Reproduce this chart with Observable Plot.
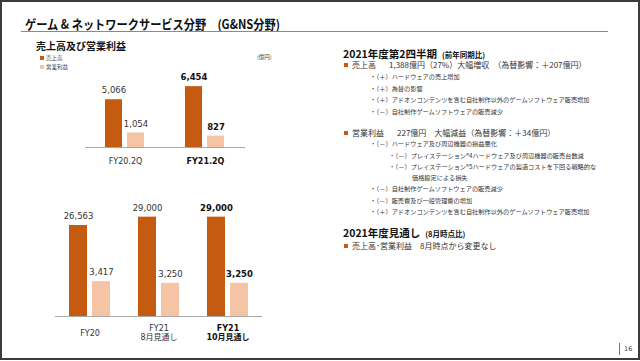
<!DOCTYPE html>
<html><head><meta charset="utf-8">
<script src="https://cdn.jsdelivr.net/npm/d3@7"></script>
<script src="https://cdn.jsdelivr.net/npm/@observablehq/plot@0.6"></script>
<style>
body{margin:0;background:#fff;}
#slide{position:relative;width:640px;height:361px;overflow:hidden;background:#fff;font-family:"Noto Sans CJK JP",sans-serif;color:#333;}
#frame{position:absolute;left:0;top:0;width:636px;height:356px;border:2px solid #3c3c3c;}
.t{position:absolute;white-space:nowrap;line-height:12px;height:12px;}
.title{left:25px;top:17.5px;font-size:12.6px;font-weight:bold;color:#111;transform:scaleX(0.89);transform-origin:left center;}
.rule{position:absolute;left:21px;top:31px;width:587px;height:1px;background:#8a8a8a;}
.ctitle{left:36px;top:40px;font-size:10px;font-weight:bold;color:#111;}
.leg{font-size:5.5px;color:#444;}
.sw{position:absolute;width:4px;height:4px;}
.h{font-size:10.5px;font-weight:bold;color:#111;left:343px;}
.h small{font-size:7.5px;margin-left:5px;}
.l1{font-size:8px;left:352px;}
.g{margin-left:5px;}
.b{position:absolute;left:344px;width:4px;height:4px;background:#C55A11;}
.l2{font-size:6.2px;left:370px;}
.l3{font-size:6.2px;left:389px;}
.l4{font-size:6.2px;left:412px;}
.chart{position:absolute;}
.chart svg{position:absolute;left:0;top:0;}
</style></head><body>
<div id="slide">
<div id="frame"></div>
<div class="t title">ゲーム &amp; ネットワークサービス分野　(G&amp;NS分野)</div>
<div class="rule"></div>
<div class="t ctitle">売上高及び営業利益</div>
<div class="sw" style="left:40px;top:56px;background:#C55A11"></div>
<div class="t leg" style="left:46px;top:52px">売上高</div>
<div class="sw" style="left:40px;top:64.5px;background:#F4C4A4"></div>
<div class="t leg" style="left:46px;top:60.5px">営業利益</div>
<div class="t leg" style="left:257px;top:51px">(億円)</div>

<div class="t h" style="top:47.5px">2021年度第2四半期<small>(前年同期比)</small></div>
<div class="b" style="top:63px"></div><div class="t l1" style="top:59px">売上高　<span class="g">1,388億円（27%）大幅増収</span>　（為替影響：＋207億円）</div>
<div class="t l2" style="top:71px">・（＋）ハードウェアの売上増加</div>
<div class="t l2" style="top:82.5px">・（＋）為替の影響</div>
<div class="t l2" style="top:94px">・（＋）アドオンコンテンツを含む自社制作以外のゲームソフトウェア販売増加</div>
<div class="t l2" style="top:105.5px">・（－）自社制作ゲームソフトウェアの販売減少</div>
<div class="b" style="top:131px"></div><div class="t l1" style="top:127px">営業利益　<span class="g">227億円</span>　大幅減益（為替影響：＋34億円）</div>
<div class="t l2" style="top:138px">・（－）ハードウェア及び周辺機器の損益悪化</div>
<div class="t l3" style="top:149.5px">・（－）プレイステーション®4ハードウェア及び周辺機器の販売台数減</div>
<div class="t l3" style="top:160.5px">・（－）プレイステーション®5ハードウェアの製造コストを下回る戦略的な</div>
<div class="t l4" style="top:171.5px">価格設定による損失</div>
<div class="t l2" style="top:183px">・（－）自社制作ゲームソフトウェアの販売減少</div>
<div class="t l2" style="top:194.5px">・（－）販売費及び一般管理費の増加</div>
<div class="t l2" style="top:206px">・（＋）アドオンコンテンツを含む自社制作以外のゲームソフトウェア販売増加</div>
<div class="t h" style="top:226.5px">2021年度見通し<small>(8月時点比)</small></div>
<div class="b" style="top:244px"></div><div class="t l1" style="top:240px">売上高･営業利益　8月時点から変更なし</div>

<div style="position:absolute;left:619px;top:343px;width:1px;height:12px;background:#777"></div>
<div class="t" style="left:624px;top:343px;font-size:6.5px;color:#444;font-family:'DejaVu Sans'">16</div>

<div id="c1" class="chart" style="left:0;top:60px;width:320px;height:110px"></div>
<div id="c2" class="chart" style="left:0;top:195px;width:320px;height:150px"></div>
</div>
<script>
// Quarterly comparison (億円)
const qCategories = ["FY20.2Q", "FY21.2Q"];
const qSales = [5066, 6454];
const qProfit = [1054, 827];
const qBold = ["FY21.2Q"];
// Full-year forecast (億円)
const yCategories = ["FY20", "FY21\n8月見通し", "FY21\n10月見通し"];
const ySales = [26563, 29000, 29000];
const yProfit = [3417, 3250, 3250];
const yBold = ["FY21\n10月見通し"];
const seriesNames = ["売上高", "営業利益"];
const seriesColors = ["#C55A11", "#F4C4A4"];

const fmt = d3.format(",");
const FONT = "DejaVu Sans, Noto Sans CJK JP, sans-serif";

function buildPlot(cfg, seriesIndex, values, withAxis) {
  const rows = cfg.cats.map((c, i) => ({cat: c, series: seriesNames[seriesIndex], value: values[i]}));
  const normal = rows.filter(d => !cfg.bold.includes(d.cat));
  const bolds = rows.filter(d => cfg.bold.includes(d.cat));
  const marks = [
    Plot.barY(rows, {fx: "cat", x: "series", y: "value", fill: seriesColors[seriesIndex]}),
    Plot.text(normal, {fx: "cat", x: "series", y: "value", text: d => fmt(d.value), dy: -9, fontSize: 8.5, fill: "#333"}),
    Plot.text(bolds, {fx: "cat", x: "series", y: "value", text: d => fmt(d.value), dy: -9, fontSize: 8.5, fontWeight: "bold", fill: "#111"})
  ];
  if (withAxis) {
    const normalCats = cfg.cats.filter(c => !cfg.bold.includes(c));
    marks.push(Plot.ruleY([0], {stroke: "#a8a8a8", strokeWidth: 1}));
    marks.push(Plot.text(normalCats, {fx: d => d, text: d => d, frameAnchor: "bottom", dy: cfg.labelPad, lineAnchor: "middle", lineHeight: 1.17, fontSize: 8, fill: "#333"}));
    marks.push(Plot.text(cfg.bold, {fx: d => d, text: d => d, frameAnchor: "bottom", dy: cfg.labelPad, lineAnchor: "middle", lineHeight: 1.17, fontSize: 8, fontWeight: "bold", fill: "#111"}));
  }
  return Plot.plot({
    width: cfg.width, height: cfg.height,
    marginLeft: cfg.ml, marginRight: cfg.mr, marginTop: cfg.mt, marginBottom: cfg.mb,
    fx: {domain: cfg.cats, padding: 0, label: null, axis: null},
    x: {domain: seriesNames, paddingInner: 0.2174, paddingOuter: cfg.po, axis: null},
    y: {domain: [0, cfg.max[seriesIndex]], axis: null},
    style: {background: "transparent", overflow: "visible", fontFamily: FONT},
    marks
  });
}

function draw(id, cfg, sales, profit) {
  const el = document.getElementById(id);
  el.appendChild(buildPlot(cfg, 0, sales, true));
  el.appendChild(buildPlot(cfg, 1, profit, false));
}

draw("c1", {cats: qCategories, bold: qBold, width: 320, height: 110, ml: 85, mr: 75, mt: 10, mb: 23,
  po: 0.848, labelPad: 13.7, max: [8165, 5580]}, qSales, qProfit);
draw("c2", {cats: yCategories, bold: yBold, width: 320, height: 150, ml: 55, mr: 58, mt: 10, mb: 29,
  po: 0.6087, labelPad: 16, max: [32400, 10880]}, ySales, yProfit);
</script>
</body></html>
